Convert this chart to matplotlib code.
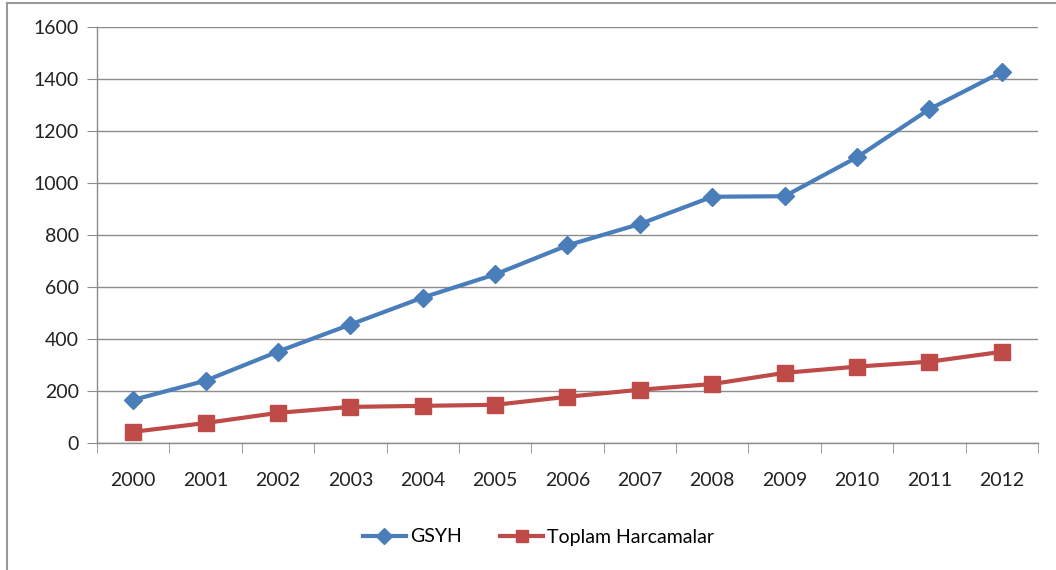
import matplotlib.pyplot as plt
from matplotlib.lines import Line2D
import numpy as np

# data
years = ['2000', '2001', '2002', '2003', '2004', '2005', '2006',
         '2007', '2008', '2009', '2010', '2011', '2012']
gsyh = [166, 240, 352, 456, 560, 649, 761, 843, 948, 950, 1100, 1285, 1428]
toplam_harcamalar = [43, 77, 116, 139, 143, 147, 178, 205, 227, 270, 294, 313, 351]

plt.rcParams['font.family'] = ['Lato', 'DejaVu Sans']

fig = plt.figure(figsize=(10.56, 5.70), dpi=100)
ax = fig.add_axes([0.0919, 0.2228, 0.891, 0.7292])

x = np.arange(len(years))
ax.plot(x, gsyh, color='#4A7EBB', lw=3, marker='D', markersize=9,
        label='GSYH')
ax.plot(x, toplam_harcamalar, color='#BE4B48', lw=3, marker='s', markersize=11,
        label='Toplam Harcamalar')

ax.set_xlim(-0.5, len(years) - 0.5)
ax.set_ylim(0, 1600)
ax.set_yticks(range(0, 1601, 200))
ax.set_xticks(x)
ax.set_xticklabels(years)
ax.set_xticks(np.arange(-0.5, len(years)), minor=True)

ax.grid(axis='y', color='#8c8c8c', lw=1)
ax.set_axisbelow(True)
for side in ['top', 'right']:
    ax.spines[side].set_visible(False)
for side in ['left', 'bottom']:
    ax.spines[side].set_color('#8c8c8c')
    ax.spines[side].set_linewidth(1)

ax.tick_params(axis='y', length=7, color='#8c8c8c', labelsize=14, pad=6,
               labelcolor='#222222')
ax.tick_params(axis='x', which='major', length=0, labelsize=14, pad=21,
               labelcolor='#222222')
ax.tick_params(axis='x', which='minor', length=7, color='#8c8c8c')

fig.legend(loc='center', bbox_to_anchor=(0.51, 1 - 537 / 570), ncol=2,
           frameon=False, fontsize=14, handlelength=2.2, columnspacing=2.0,
           handletextpad=0.2, markerscale=0.85)

# outer chart frame (left and top edges visible)
fig.add_artist(Line2D([7 / 1056, 7 / 1056], [0, 1 - 3 / 570],
                      transform=fig.transFigure, color='#999999', lw=1.5))
fig.add_artist(Line2D([7 / 1056, 1], [1 - 3 / 570, 1 - 3 / 570],
                      transform=fig.transFigure, color='#999999', lw=1.5))

fig.savefig('out.png', dpi=100)
